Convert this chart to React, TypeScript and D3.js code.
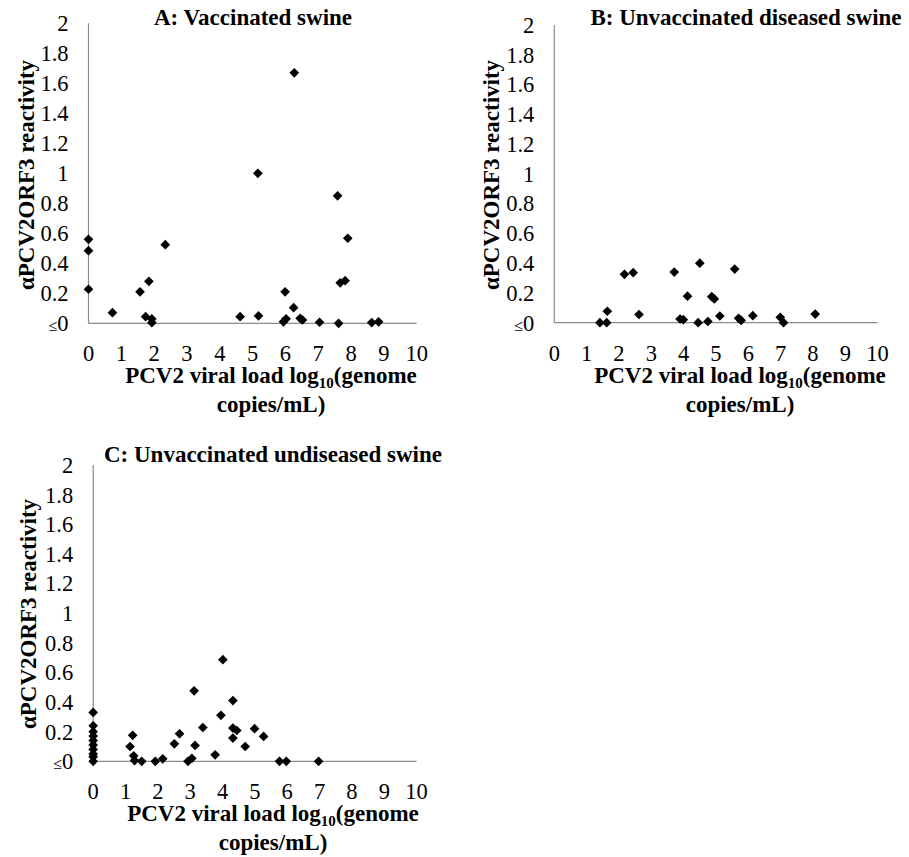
import React from "react";
import * as d3 from "d3";

// ---- data ----
const xTicks = [0, 1, 2, 3, 4, 5, 6, 7, 8, 9, 10];
const yTicks = [0, 0.2, 0.4, 0.6, 0.8, 1, 1.2, 1.4, 1.6, 1.8, 2];

const aX = [0, 0, 0, 0.73, 1.57, 1.84, 2.34, 1.74, 1.93, 1.93, 4.62, 5.18, 5.16, 6.27, 7.59, 7.9, 7.67, 7.82, 5.99, 6.25, 5.94, 6.02, 6.45, 6.52, 7.04, 7.62, 8.63, 8.84];
const aY = [0.56, 0.484, 0.227, 0.071, 0.21, 0.28, 0.524, 0.044, 0.029, 0.004, 0.044, 0.05, 1.0, 1.67, 0.85, 0.567, 0.27, 0.284, 0.21, 0.104, 0.01, 0.03, 0.033, 0.022, 0.007, 0.0, 0.005, 0.01];

const bX = [1.41, 1.62, 1.64, 2.17, 2.44, 2.62, 3.71, 4.12, 4.5, 3.89, 3.99, 4.45, 4.75, 4.87, 4.95, 5.12, 5.58, 5.7, 5.78, 6.14, 6.99, 7.09, 8.07];
const bY = [0, 0, 0.077, 0.325, 0.336, 0.055, 0.34, 0.178, 0.4, 0.025, 0.02, 0, 0.008, 0.175, 0.16, 0.045, 0.36, 0.03, 0.015, 0.047, 0.036, 0, 0.058];

const cX = [0, 0, 0, 0, 0, 0, 0, 0, 0, 0, 1.22, 1.14, 1.25, 1.28, 1.5, 1.92, 2.15, 2.51, 2.67, 2.93, 3.05, 3.12, 3.15, 3.39, 3.77, 3.95, 4.01, 4.32, 4.32, 4.44, 4.32, 4.7, 4.99, 5.27, 5.76, 5.97, 6.97];
const cY = [0.33, 0.24, 0.2, 0.17, 0.14, 0.11, 0.08, 0.05, 0.03, 0.0, 0.175, 0.1, 0.037, 0.005, 0, 0, 0.017, 0.118, 0.186, 0, 0.02, 0.476, 0.107, 0.228, 0.044, 0.31, 0.686, 0.41, 0.224, 0.208, 0.157, 0.1, 0.22, 0.168, 0, 0, 0];

const titles = ["A: Vaccinated swine", "B: Unvaccinated diseased swine", "C: Unvaccinated undiseased swine"];

// ---- layout ----
const FONT = "'Liberation Serif', 'Times New Roman', Times, serif";

type PanelProps = {
  xs: number[];
  ys: number[];
  title: string;
  x0: number; x1: number; y0: number; y1: number;
  titleX: number; titleY: number;
  yTitleX: number; yTitleY: number;
  xTitleX: number;
};

function Panel(p: PanelProps) {
  const x = d3.scaleLinear().domain([0, 10]).range([p.x0, p.x1]);
  const y = d3.scaleLinear().domain([0, 2]).range([p.y0, p.y1]);
  const diamond = d3.symbol().type(d3.symbolDiamond2).size(60)();
  const axisColor = "#8c8c8c";
  return (
    <g>
      <line x1={x(0)} x2={x(0)} y1={y(0)} y2={y(2)} stroke={axisColor} strokeWidth={1.2} />
      <line x1={x(0)} x2={x(10)} y1={y(0)} y2={y(0)} stroke={axisColor} strokeWidth={1.2} />
      {yTicks.map((t) => (
        <text key={"y" + t} x={p.x0 - 20} y={y(t)} dy="0.35em" textAnchor="end" fontFamily={FONT} fontSize={22.5} fill="#000">
          {t === 0 ? (
            <>
              <tspan fontSize={16}>≤</tspan>
              <tspan>0</tspan>
            </>
          ) : (
            String(t)
          )}
        </text>
      ))}
      {xTicks.map((t) => (
        <text key={"x" + t} x={x(t)} y={p.y0 + 38} textAnchor="middle" fontFamily={FONT} fontSize={22.5} fill="#000">
          {t}
        </text>
      ))}
      {p.xs.map((v, i) => (
        <path key={i} d={diamond as string} transform={`translate(${x(v)},${y(p.ys[i])})`} fill="#000" />
      ))}
      <text x={p.titleX} y={p.titleY} textAnchor="middle" fontFamily={FONT} fontSize={23} fontWeight="bold" fill="#000">
        {p.title}
      </text>
      <text
        transform={`translate(${p.yTitleX},${p.yTitleY}) rotate(-90)`}
        textAnchor="middle"
        fontFamily={FONT}
        fontSize={23}
        fontWeight="bold"
        fill="#000"
      >
        αPCV2ORF3 reactivity
      </text>
      <text x={p.xTitleX} y={p.y0 + 60} textAnchor="middle" fontFamily={FONT} fontSize={23} fontWeight="bold" fill="#000">
        PCV2 viral load log
        <tspan fontSize={15} dy={5}>10</tspan>
        <tspan dy={-5}>(genome</tspan>
      </text>
      <text x={p.xTitleX} y={p.y0 + 89} textAnchor="middle" fontFamily={FONT} fontSize={23} fontWeight="bold" fill="#000">
        copies/mL)
      </text>
    </g>
  );
}

export default function App() {
  return (
    <svg width={909} height={857} style={{ position: "absolute", left: 0, top: 0, background: "#fff" }}>
      <rect width={909} height={857} fill="#fff" />
      <Panel xs={aX} ys={aY} title={titles[0]} x0={88.5} x1={416.7} y0={323.3} y1={23.3}
        titleX={253} titleY={25} yTitleX={34} yTitleY={175} xTitleX={271} />
      <Panel xs={bX} ys={bY} title={titles[1]} x0={554.3} x1={877.6} y0={322.7} y1={25}
        titleX={746} titleY={25} yTitleX={499} yTitleY={175} xTitleX={740} />
      <Panel xs={cX} ys={cY} title={titles[2]} x0={93.2} x1={416.6} y0={761.3} y1={465}
        titleX={273} titleY={462} yTitleX={36} yTitleY={614} xTitleX={273} />
    </svg>
  );
}
